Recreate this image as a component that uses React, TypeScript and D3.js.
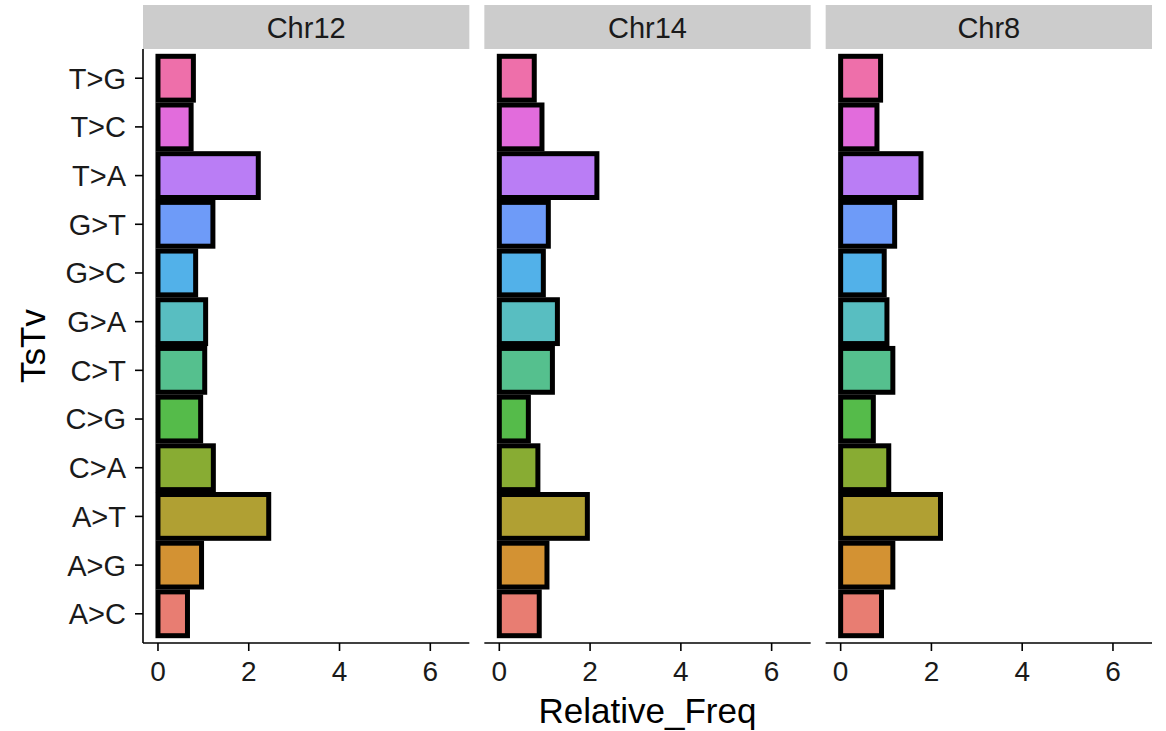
import React, { useEffect, useRef } from 'react';
import * as d3 from 'd3';

const categories = ['A>C', 'A>G', 'A>T', 'C>A', 'C>G', 'C>T', 'G>A', 'G>C', 'G>T', 'T>A', 'T>C', 'T>G'];
const panels = ['Chr12', 'Chr14', 'Chr8'];
const chr12 = [0.65, 0.96, 2.44, 1.22, 0.94, 1.03, 1.05, 0.83, 1.21, 2.21, 0.73, 0.78];
const chr14 = [0.88, 1.05, 1.94, 0.85, 0.64, 1.17, 1.28, 0.97, 1.08, 2.15, 0.94, 0.77];
const chr8 = [0.9, 1.15, 2.2, 1.06, 0.72, 1.15, 1.02, 0.96, 1.19, 1.77, 0.8, 0.88];
const xTicks = [0, 2, 4, 6];
const colors = ['#E87D72', '#D39233', '#B0A033', '#88AC33', '#55BB4A', '#55C08E',
  '#58BEC1', '#52B1E9', '#6E9BF8', '#BA7DF5', '#E26CDC', '#EE6FAA'];

const App = () => {
  const svgRef = useRef(null);

  useEffect(() => {
    const width = 1166;
    const height = 731;
    const font = 'Liberation Sans, Arial, Helvetica, sans-serif';
    const values = [chr12, chr14, chr8];

    const left = 143;
    const right = 1152;
    const gap = 15;
    const top = 49;
    const bottom = 643;
    const stripTop = 5;
    const panelW = (right - left - gap * 2) / 3;

    const svg = d3.select(svgRef.current);
    svg.selectAll('*').remove();
    svg.attr('width', width).attr('height', height);

    const y = d3.scalePoint().domain(categories).range([bottom, top]).padding(0.6);
    const barH = y.step() * 0.9;
    const color = d3.scaleOrdinal().domain(categories).range(colors);

    panels.forEach((name, p) => {
      const x0 = left + p * (panelW + gap);
      const x = d3.scaleLinear().domain([-0.33, 6.86]).range([x0, x0 + panelW]);
      const g = svg.append('g');

      // strip
      g.append('rect')
        .attr('x', x0).attr('y', stripTop)
        .attr('width', panelW).attr('height', top - stripTop)
        .attr('fill', '#cccccc');
      g.append('text')
        .attr('x', x0 + panelW / 2).attr('y', 38)
        .attr('text-anchor', 'middle')
        .style('font-family', font).style('font-size', '29px')
        .attr('fill', '#1a1a1a')
        .text(name);

      // bars
      g.selectAll('rect.bar')
        .data(values[p].map((v, i) => ({ cat: categories[i], v })))
        .enter()
        .append('rect')
        .attr('class', 'bar')
        .attr('x', x(0))
        .attr('y', d => y(d.cat) - barH / 2)
        .attr('width', d => x(d.v) - x(0))
        .attr('height', barH)
        .attr('fill', d => color(d.cat))
        .attr('stroke', 'black')
        .attr('stroke-width', 5);

      // x axis
      g.append('line')
        .attr('x1', x0).attr('x2', x0 + panelW)
        .attr('y1', bottom).attr('y2', bottom)
        .attr('stroke', 'black').attr('stroke-width', 1.6);
      xTicks.forEach(t => {
        g.append('line')
          .attr('x1', x(t)).attr('x2', x(t))
          .attr('y1', bottom).attr('y2', bottom + 8)
          .attr('stroke', 'black').attr('stroke-width', 1.6);
        g.append('text')
          .attr('x', x(t)).attr('y', 681)
          .attr('text-anchor', 'middle')
          .style('font-family', font).style('font-size', '28px')
          .attr('fill', '#1a1a1a')
          .text(t);
      });

      // y axis only on first panel
      if (p === 0) {
        g.append('line')
          .attr('x1', x0).attr('x2', x0)
          .attr('y1', top).attr('y2', bottom)
          .attr('stroke', 'black').attr('stroke-width', 1.6);
        categories.forEach(c => {
          g.append('line')
            .attr('x1', x0 - 8).attr('x2', x0)
            .attr('y1', y(c)).attr('y2', y(c))
            .attr('stroke', 'black').attr('stroke-width', 1.6);
          g.append('text')
            .attr('x', 126).attr('y', y(c))
            .attr('dy', '0.36em')
            .attr('text-anchor', 'end')
            .style('font-family', font).style('font-size', '29px')
            .attr('fill', '#1a1a1a')
            .text(c);
        });
      }
    });

    // axis titles
    svg.append('text')
      .attr('x', (left + right) / 2).attr('y', 723)
      .attr('text-anchor', 'middle')
      .style('font-family', font).style('font-size', '35px')
      .attr('fill', 'black')
      .text('Relative_Freq');

    svg.append('text')
      .attr('transform', `translate(45, ${(top + bottom) / 2}) rotate(-90)`)
      .attr('text-anchor', 'middle')
      .style('font-family', font).style('font-size', '35px')
      .attr('fill', 'black')
      .text('TsTv');
  }, []);

  return (
    <svg ref={svgRef} style={{ position: 'absolute', left: 0, top: 0, display: 'block', background: 'white' }}></svg>
  );
};

export default App;
